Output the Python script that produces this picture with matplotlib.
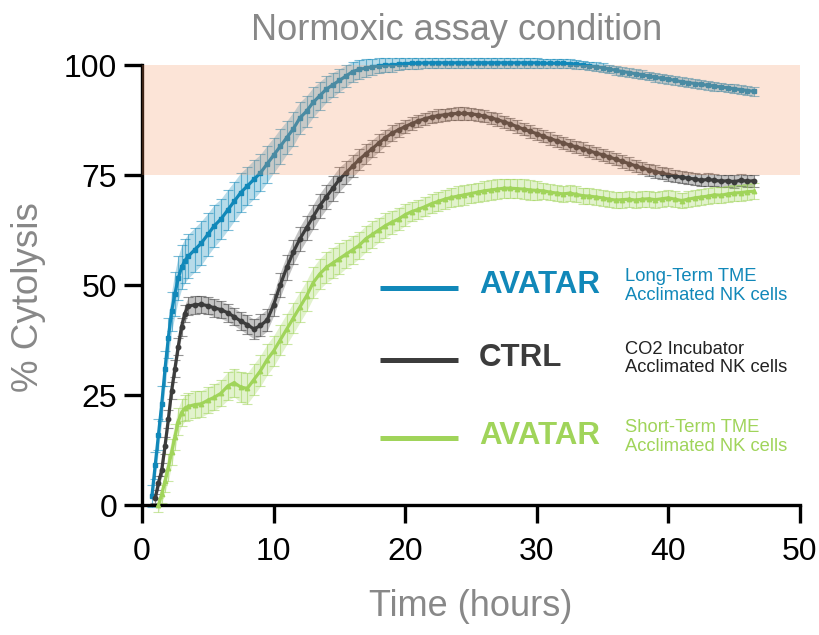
import numpy as np
import matplotlib
matplotlib.use('Agg')
import matplotlib.pyplot as plt

plt.rcParams['font.family'] = ['Liberation Sans', 'DejaVu Sans']

# time points (hours)
t = np.concatenate([np.arange(0.75, 3.51, 0.25), np.arange(4.0, 46.51, 0.5)])

# Long-term TME acclimated NK cells (AVATAR, blue)
long_term = [2, 9, 16, 23, 31, 38, 44, 48, 51.5, 54, 55.5, 56.5,
             58, 59.5, 61.5, 63.5, 65, 67, 69, 71, 72.5, 74, 75.5, 77.5, 79.5,
             81.5, 83.5, 85.5, 88, 89.5, 91.5, 93, 94.5, 95.5, 96.5,
             97.5, 98.5, 99, 99.3, 99.6, 99.8, 100, 100, 100.2, 100.3,
             100.4, 100.4, 100.5, 100.5, 100.5, 100.5, 100.5, 100.5, 100.5, 100.5,
             100.5, 100.5, 100.5, 100.5, 100.5, 100.5, 100.5, 100.5, 100.5, 100.5,
             100.4, 100.4, 100.4, 100.4,
             100.3, 100.2, 100, 99.8, 99.6, 99.4, 99.1, 98.8, 98.5, 98.3,
             98, 97.8, 97.5, 97.2, 97, 96.8, 96.5, 96.2, 96, 95.8,
             95.6, 95.4, 95.2, 95, 94.8, 94.6, 94.4, 94.2, 94]
long_err = ([2.5, 3, 3.5, 4, 4, 4.5, 4.5, 5, 5, 5, 5, 5]
            + [5, 5, 4.8, 4.8, 4.6, 4.6, 4.5, 4.5, 4.4, 4.4, 4.2, 4.2, 4]
            + [4, 3.8, 3.8, 3.6, 3.5, 3.4, 3.2, 3, 2.8, 2.6]
            + [2.5, 2.3, 2.2, 2, 1.8, 1.7, 1.6, 1.5, 1.4, 1.3]
            + [1.2] * 20 + [1.0] * 33)

# CO2 incubator acclimated NK cells (CTRL, dark grey)
ctrl = [np.nan, 1.5, 5, 8, 13.5, 19.5, 26, 31, 36, 40.5, 43.5, 45.2,
        45.5, 45.6, 45.3, 44.8, 44.4, 43.7, 42.8, 41.8, 41, 40, 40.8, 42, 45.5,
        50, 54, 57.5, 60.5, 63, 65.5, 68, 70, 72, 74,
        75.5, 77, 78.5, 79.8, 81, 82.3, 83.5, 84.5, 85.3, 86,
        86.7, 87.3, 87.8, 88.2, 88.5, 88.7, 88.9, 89, 89, 88.9,
        88.7, 88.4, 88, 87.6, 87.1, 86.6, 86, 85.4, 84.9, 84.4,
        83.8, 83.3, 82.8, 82.3, 81.8, 81.4, 81, 80.5, 80, 79.6,
        79.1, 78.6, 78.1, 77.6, 77.1, 76.6, 76.2, 75.8, 75.4, 75.1,
        74.8, 74.5, 74.3, 74.1, 73.8, 74, 73.8, 73.6, 73.7, 73.5,
        73.8, 73.6, 73.7]
ctrl_err = ([np.nan, 1, 1.5, 1.5, 2, 2, 2, 2, 2, 2, 2, 2]
            + [2, 2, 2, 2, 2, 2, 2, 2, 2.2, 2.2, 2.5, 2.5, 2.5]
            + [2.8] * 10
            + [2.6, 2.5, 2.4, 2.2, 2, 2, 1.8, 1.8, 1.6, 1.5]
            + [1.4] * 53)

# Short-term TME acclimated NK cells (AVATAR, green)
short_term = [np.nan, np.nan, 0, 2.5, 5.5, 8.5, 12, 15.5, 19, 21, 22, 22.4,
              22.8, 23, 23.8, 24.5, 25.4, 27, 27.8, 26.8, 26.5, 28.5, 30.5, 33, 35,
              37.5, 40, 42.5, 45, 47.5, 50.5, 52.5, 54, 55, 56,
              57, 58, 59, 60.5, 61.5, 62.5, 63.5, 64.3, 65, 66,
              66.7, 67.2, 67.8, 68.5, 69, 69.5, 69.9, 70.2, 70.5, 70.8,
              71.1, 71.4, 71.6, 71.8, 72, 72, 71.9, 71.8, 71.6, 71.5,
              71.4, 71.1, 70.9, 70.7, 70.9, 70.6, 70.3, 70.2, 70, 69.8,
              69.5, 69.3, 69.4, 69.5, 69.3, 69.5, 69.6, 69.4, 69.6, 69.8,
              69.5, 69.2, 69.5, 69.8, 70, 70.2, 70.5, 70.4, 70.7, 70.9,
              71, 71.2, 71.3]
short_err = ([np.nan, np.nan, 1.5, 2, 2.5, 3, 3, 3, 3, 3, 3, 3]
             + [3, 3, 3, 3, 3, 3.2, 3.2, 3.5, 3.5, 3.5, 3.5, 3.5, 3.5]
             + [3.5] * 10
             + [3.2, 3.2, 3, 3, 3, 2.8, 2.8, 2.6, 2.6, 2.5]
             + [2.2] * 20 + [1.8] * 33)

blue = '#1188b9'
grey = '#3c3c3c'
green = '#a0d45a'

fig = plt.figure(figsize=(8.2, 6.35), dpi=100)
ax = fig.add_axes([0.1732, 0.2047, 0.8024, 0.6929])

series = [(long_term, long_err, blue, 's'),
          (ctrl, ctrl_err, grey, 'o'),
          (short_term, short_err, green, '^')]
for y, e, c, m in series:
    y = np.array(y)
    e = np.array(e)
    ax.fill_between(t, y - e, y + e, color=c, alpha=0.3, lw=0, zorder=2, clip_on=False)
    ax.errorbar(t, y, yerr=e, fmt='none', ecolor=c, alpha=0.55, elinewidth=0.8,
                capsize=3.5, capthick=0.8, zorder=2, clip_on=False)
    ax.plot(t, y, color=c, lw=2.3, marker=m, ms=3.2, zorder=3, clip_on=False)

# shaded target zone, drawn over the curves
ax.axhspan(75, 100, facecolor=(0.96, 0.58, 0.39), alpha=0.25, lw=0, zorder=4)

ax.set_xlim(0, 50)
ax.set_ylim(0, 100)
ax.set_xticks([0, 10, 20, 30, 40, 50])
ax.set_yticks([0, 25, 50, 75, 100])
for s in ['top', 'right']:
    ax.spines[s].set_visible(False)
for s in ['left', 'bottom']:
    ax.spines[s].set_linewidth(2.4)
ax.tick_params(length=13, width=2.4, labelsize=23)
ax.tick_params(axis='x', pad=10)
ax.tick_params(axis='y', pad=5)

ax.set_xlabel('Time (hours)', fontsize=26, color='#888888', labelpad=16)
ax.set_ylabel('% Cytolysis', fontsize=26.5, color='#888888')
ax.yaxis.set_label_coords(-0.146, 0.473)
fig.text(0.557, 0.952, 'Normoxic assay condition', fontsize=26, color='#888888',
         ha='center', va='center')

# hand-made legend
legend_rows = [(49.4, 'AVATAR', blue, 'Long-Term TME\nAcclimated NK cells', blue),
               (33.0, 'CTRL', grey, 'CO2 Incubator\nAcclimated NK cells', '#222222'),
               (15.2, 'AVATAR', green, 'Short-Term TME\nAcclimated NK cells', green)]
for yy, name, c, desc, dc in legend_rows:
    ax.plot([18.1, 24.0], [yy, yy], color=c, lw=3.6, solid_capstyle='butt', zorder=6)
    ax.text(25.6, yy + 0.5, name, color=c, fontsize=22.5, fontweight='bold',
            ha='left', va='center', zorder=6)
    ax.text(36.7, yy + 0.3, desc, color=dc, fontsize=13.2, ha='left', va='center',
            linespacing=1.15, zorder=6)

fig.savefig('out.png', dpi=100)
